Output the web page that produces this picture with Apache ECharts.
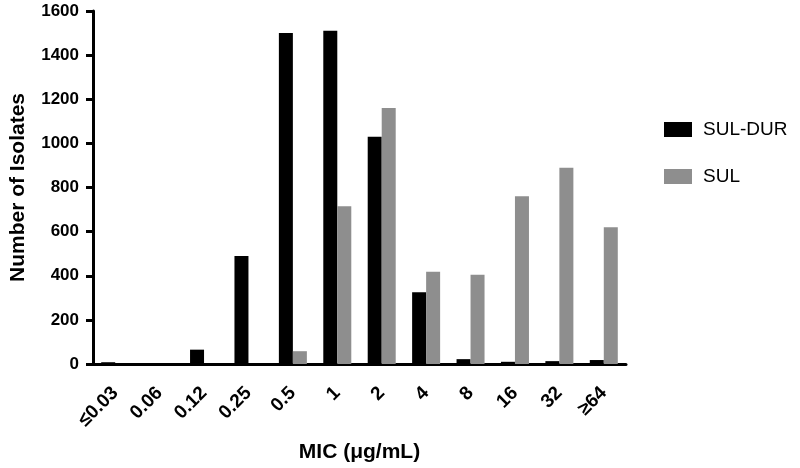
<!DOCTYPE html>
<html>
<head>
<meta charset="utf-8">
<script src="https://cdn.jsdelivr.net/npm/echarts@6/dist/echarts.min.js"></script>
<style>
  html, body { margin: 0; padding: 0; background: #fff; }
  #chart { width: 800px; height: 468px; }
</style>
</head>
<body>
<div id="chart"></div>
<script>
// MIC categories and isolate counts
var categories = ['≤0.03', '0.06', '0.12', '0.25', '0.5', '1', '2', '4', '8', '16', '32', '≥64'];
var sulDur = [8, 0, 65, 490, 1500, 1510, 1030, 325, 22, 10, 13, 18];
var sul = [0, 0, 0, 0, 58, 715, 1160, 418, 405, 760, 890, 620];
var yTicks = { min: 0, max: 1600, step: 200 };

var font = 'Liberation Sans, Arial, sans-serif';
var chart = echarts.init(document.getElementById('chart'));

var option = {
    animation: false,
    textStyle: { fontFamily: font },
    grid: { left: 89, right: 174, top: 11, bottom: 104 },
    legend: {
        orient: 'vertical',
        left: 659,
        top: 115,
        itemWidth: 28,
        itemHeight: 15,
        itemGap: 28,
        icon: 'rect',
        textStyle: { fontSize: 19, color: '#000', fontFamily: font, padding: [0, 0, 0, 6] },
        data: ['SUL-DUR', 'SUL']
    },
    xAxis: {
        type: 'category',
        data: categories,
        name: 'MIC (μg/mL)',
        nameLocation: 'middle',
        nameGap: 78,
        nameTextStyle: { fontSize: 21, fontWeight: 'bold', color: '#000' },
        axisLine: { lineStyle: { color: '#000', width: 3 } },
        axisTick: { alignWithLabel: true, length: 10, lineStyle: { color: '#000', width: 3 } },
        axisLabel: { rotate: 45, fontSize: 19, fontWeight: 'bold', color: '#000', margin: 26, interval: 0 }
    },
    yAxis: {
        type: 'value',
        min: yTicks.min,
        max: yTicks.max,
        interval: yTicks.step,
        name: 'Number of Isolates',
        nameLocation: 'middle',
        nameGap: 64,
        nameTextStyle: { fontSize: 21, fontWeight: 'bold', color: '#000' },
        axisLine: { show: true, lineStyle: { color: '#000', width: 3 } },
        axisTick: { show: true, length: 7, lineStyle: { color: '#000', width: 3 } },
        axisLabel: {
            fontSize: 17, fontWeight: 'bold', color: '#000', margin: 14,
            formatter: function (v) { return String(v); }
        },
        splitLine: { show: false }
    },
    series: [
        {
            name: 'SUL-DUR',
            type: 'bar',
            data: sulDur,
            barWidth: 14,
            barGap: '0%',
            itemStyle: { color: '#000' }
        },
        {
            name: 'SUL',
            type: 'bar',
            data: sul,
            barWidth: 14,
            barGap: '0%',
            itemStyle: { color: '#8e8e8e' }
        }
    ]
};

chart.setOption(option);
</script>
</body>
</html>
